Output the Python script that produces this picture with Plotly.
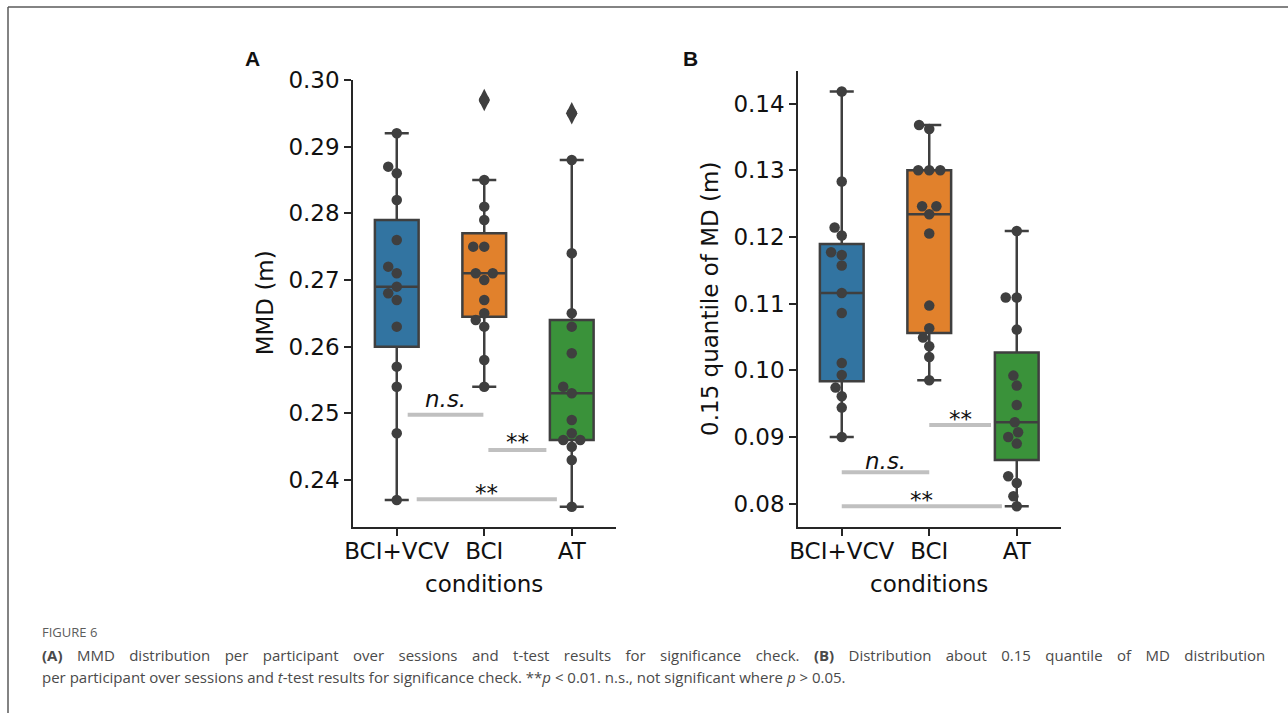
import numpy as np
import plotly.graph_objects as go

# ---------------- data ----------------
categories = ["BCI+VCV", "BCI", "AT"]
box_colors = ["#3274a1", "#e1812c", "#3a923a"]

# Panel A: MMD (m)
mmd_bci_vcv = [0.292, 0.287, 0.286, 0.282, 0.276, 0.272, 0.271, 0.269, 0.268, 0.267, 0.263, 0.257, 0.254, 0.247, 0.237]
mmd_bci = [0.297, 0.285, 0.281, 0.279, 0.275, 0.275, 0.271, 0.271, 0.270, 0.267, 0.265, 0.264, 0.263, 0.258, 0.254]
mmd_at = [0.295, 0.288, 0.274, 0.265, 0.263, 0.259, 0.254, 0.253, 0.249, 0.247, 0.246, 0.246, 0.245, 0.243, 0.236]

# Panel B: 0.15 quantile of MD (m)
q15_bci_vcv = [0.1418, 0.1283, 0.1214, 0.1202, 0.1177, 0.1173, 0.1157, 0.1116, 0.1086, 0.1011, 0.0993, 0.0974, 0.0961, 0.0944, 0.0900]
q15_bci = [0.1368, 0.1362, 0.1300, 0.1300, 0.1300, 0.1246, 0.1246, 0.1234, 0.1205, 0.1097, 0.1063, 0.1049, 0.1036, 0.1020, 0.0985]
q15_at = [0.1209, 0.1109, 0.1109, 0.1061, 0.0992, 0.0977, 0.0948, 0.0922, 0.0907, 0.0900, 0.0890, 0.0841, 0.0831, 0.0811, 0.0796]

mmd_yticks = [0.24, 0.25, 0.26, 0.27, 0.28, 0.29, 0.30]
q15_yticks = [0.08, 0.09, 0.10, 0.11, 0.12, 0.13, 0.14]

# significance bars: (x start, x end, y, label) in category units
sig_mmd = [(0.125, 0.99, 0.2498, "<i>n.s.</i>"), (1.047, 1.71, 0.2445, "**"), (0.228, 1.83, 0.2371, "**")]
sig_q15 = [(0.0, 1.0, 0.0847, "<i>n.s.</i>"), (1.0, 1.706, 0.0918, "**"), (0.0, 1.83, 0.0796, "**")]

caption_label = "FIGURE 6"
caption_line1_words = ("<b>(A)</b> MMD distribution per participant over sessions and t-test results for "
                       "significance check. <b>(B)</b> Distribution about 0.15 quantile of MD distribution").split(" ")
caption_line2 = ("per participant over sessions and <i>t</i>-test results for significance check. "
                 "**<i>p</i> &lt; 0.01. n.s., not significant where <i>p</i> &gt; 0.05.")

# ---------------- layout constants ----------------
W, H = 1288, 713
PX_PER_CAT = 87.5
PX_PER_UNIT_Y = 6667.0
BOTTOM_PX = 527.0
PANEL_LEFT = {"A": 353.0, "B": 798.0}
LINE_COL = "#3f3f3f"
AX_COL = "#262626"
TXT_COL = "#111111"
FONT = "DejaVu Sans"
DOT = 10.5
LABEL_SHIFT = {"A": [1, -7, -9], "B": [-4, -9, -9]}   # px nudges of the significance labels


def px2paper_x(p):
    return p / W


def px2paper_y(p):
    return 1 - p / H


def data_range(groups):
    allv = np.concatenate([np.asarray(g) for g in groups])
    lo, hi = allv.min(), allv.max()
    m = 0.05 * (hi - lo)
    return [lo - m, hi + m]


def box_stats(vals):
    v = np.sort(np.asarray(vals))
    q1, med, q3 = np.percentile(v, [25, 50, 75])
    iqr = q3 - q1
    lo_lim, hi_lim = q1 - 1.5 * iqr, q3 + 1.5 * iqr
    inside = v[(v >= lo_lim) & (v <= hi_lim)]
    out = v[(v < lo_lim) | (v > hi_lim)]
    return q1, med, q3, inside.min(), inside.max(), out


def swarm_offsets(vals, ppu_y, d):
    vals = np.asarray(vals, dtype=float)
    order = np.argsort(vals, kind="stable")
    placed = []
    offs = np.zeros(len(vals))
    for idx in order:
        y = vals[idx] * ppu_y
        neigh = [(px, py) for px, py in placed if abs(py - y) < d]
        cands = [0.0]
        left_first = True
        for px, py in neigh:
            dy = py - y
            dx = np.sqrt(max(d * d - dy * dy, 0.0)) * 1.05
            cands.extend([px - dx, px + dx] if left_first else [px + dx, px - dx])
            left_first = not left_first
        cands = sorted(cands, key=abs)
        chosen = cands[-1]
        for c in cands:
            if all((c - px) ** 2 + (y - py) ** 2 >= d * d * 0.999 for px, py in neigh):
                chosen = c
                break
        placed.append((chosen, y))
        offs[idx] = chosen
    return offs / PX_PER_CAT


fig = go.Figure()

panels = [
    ("A", "x", "y", [mmd_bci_vcv, mmd_bci, mmd_at], mmd_yticks, sig_mmd, "MMD (m)"),
    ("B", "x2", "y2", [q15_bci_vcv, q15_bci, q15_at], q15_yticks, sig_q15, "0.15 quantile of MD (m)"),
]

annotations = []
for name, xa, ya, groups, yticks, sigs, ytitle in panels:
    yr = data_range(groups)
    for i, g in enumerate(groups):
        q1, med, q3, lo, hi, out = box_stats(g)
        fig.add_trace(go.Box(
            x=[i], q1=[q1], median=[med], q3=[q3], lowerfence=[lo], upperfence=[hi],
            width=0.5, whiskerwidth=0.55, fillcolor=box_colors[i],
            line=dict(color=LINE_COL, width=2.5), boxpoints=False,
            xaxis=xa, yaxis=ya, showlegend=False, hoverinfo="skip"))
        if len(out):
            fig.add_trace(go.Scatter(
                x=[i] * len(out), y=out, mode="markers",
                marker=dict(symbol="diamond-tall", size=16, color=LINE_COL),
                xaxis=xa, yaxis=ya, showlegend=False, hoverinfo="skip"))
    for i, g in enumerate(groups):
        offs = swarm_offsets(g, PX_PER_UNIT_Y, DOT)
        fig.add_trace(go.Scatter(
            x=i + offs, y=g, mode="markers",
            marker=dict(size=DOT, color=LINE_COL, line=dict(width=0)),
            xaxis=xa, yaxis=ya, showlegend=False, hoverinfo="skip"))
    for k, (x0, x1, yv, lab) in enumerate(sigs):
        fig.add_trace(go.Scatter(
            x=[x0, x1], y=[yv, yv], mode="lines",
            line=dict(color="#c0c0c0", width=4),
            xaxis=xa, yaxis=ya, showlegend=False, hoverinfo="skip"))
        annotations.append(dict(
            x=(x0 + x1) / 2, y=yv, xref=xa, yref=ya, text=lab, showarrow=False,
            xanchor="center", yanchor="bottom", yshift=LABEL_SHIFT[name][k],
            font=dict(family=FONT, size=23, color=TXT_COL)))

    left = PANEL_LEFT[name]
    right = left + 3 * PX_PER_CAT
    top_px = BOTTOM_PX - (yr[1] - yr[0]) * PX_PER_UNIT_Y
    axn = "" if name == "A" else "2"
    fig.update_layout(**{
        "xaxis" + axn: dict(
            domain=[px2paper_x(left), px2paper_x(right)], range=[-0.5, 2.5],
            tickvals=[0, 1, 2], ticktext=categories, anchor=ya,
            showline=True, linecolor=AX_COL, linewidth=1.5, mirror=False,
            ticks="outside", ticklen=7, tickwidth=1.5, tickcolor=AX_COL,
            ticklabelstandoff=-4,
            tickfont=dict(family=FONT, size=23, color=TXT_COL),
            showgrid=False, zeroline=False, fixedrange=True, automargin=False),
        "yaxis" + axn: dict(
            domain=[px2paper_y(BOTTOM_PX), px2paper_y(top_px)], range=yr,
            tickvals=yticks, ticktext=[f"{t:.2f}" for t in yticks], anchor=xa,
            showline=True, linecolor=AX_COL, linewidth=1.5,
            ticks="outside", ticklen=7, tickwidth=1.5, tickcolor=AX_COL,
            tickfont=dict(family=FONT, size=23, color=TXT_COL),
            showgrid=False, zeroline=False, fixedrange=True, automargin=False),
    })
    cx = (left + right) / 2
    annotations.append(dict(
        x=px2paper_x(cx), y=px2paper_y(584), xref="paper", yref="paper",
        text="conditions", showarrow=False, xanchor="center", yanchor="middle",
        font=dict(family=FONT, size=23, color=TXT_COL)))
    ytx = 265 if name == "A" else 710
    annotations.append(dict(
        x=px2paper_x(ytx), y=px2paper_y((BOTTOM_PX + top_px) / 2), xref="paper", yref="paper",
        text=ytitle, showarrow=False, textangle=-90, xanchor="center", yanchor="middle",
        font=dict(family=FONT, size=23, color=TXT_COL)))
    lx = 252 if name == "A" else 690
    annotations.append(dict(
        x=px2paper_x(lx), y=px2paper_y(58), xref="paper", yref="paper",
        text=f"<b>{name}</b>", showarrow=False, xanchor="center", yanchor="middle",
        font=dict(family="Liberation Sans", size=21, color=TXT_COL)))

# caption (first line justified by widened word gaps)
CAP_FONT = "Open Sans"
GAP = " \u2002\u200a\u200a"
annotations.append(dict(
    x=px2paper_x(40), y=px2paper_y(632), xref="paper", yref="paper",
    text=caption_label, showarrow=False, xanchor="left", yanchor="middle",
    font=dict(family=CAP_FONT, size=13, color="#5c5c5c")))
annotations.append(dict(
    x=px2paper_x(40), y=px2paper_y(655), xref="paper", yref="paper",
    text=GAP.join(caption_line1_words),
    showarrow=False, xanchor="left", yanchor="middle",
    font=dict(family=CAP_FONT, size=15, color="#4a4a4a")))
annotations.append(dict(
    x=px2paper_x(40), y=px2paper_y(677), xref="paper", yref="paper",
    text=caption_line2,
    showarrow=False, xanchor="left", yanchor="middle",
    font=dict(family=CAP_FONT, size=15, color="#4a4a4a")))

shapes = [
    dict(type="line", xref="paper", yref="paper", x0=px2paper_x(8), x1=1.0,
         y0=px2paper_y(7), y1=px2paper_y(7), line=dict(color="#5a5a5a", width=1.5)),
    dict(type="line", xref="paper", yref="paper", x0=px2paper_x(8), x1=px2paper_x(8),
         y0=px2paper_y(7), y1=0.0, line=dict(color="#5a5a5a", width=1.5)),
]

fig.update_layout(
    width=W, height=H, margin=dict(l=0, r=0, t=0, b=0, pad=0, autoexpand=False),
    paper_bgcolor="white", plot_bgcolor="white",
    annotations=annotations, shapes=shapes, showlegend=False,
)

fig.write_html("out.html", config={"displayModeBar": False})
